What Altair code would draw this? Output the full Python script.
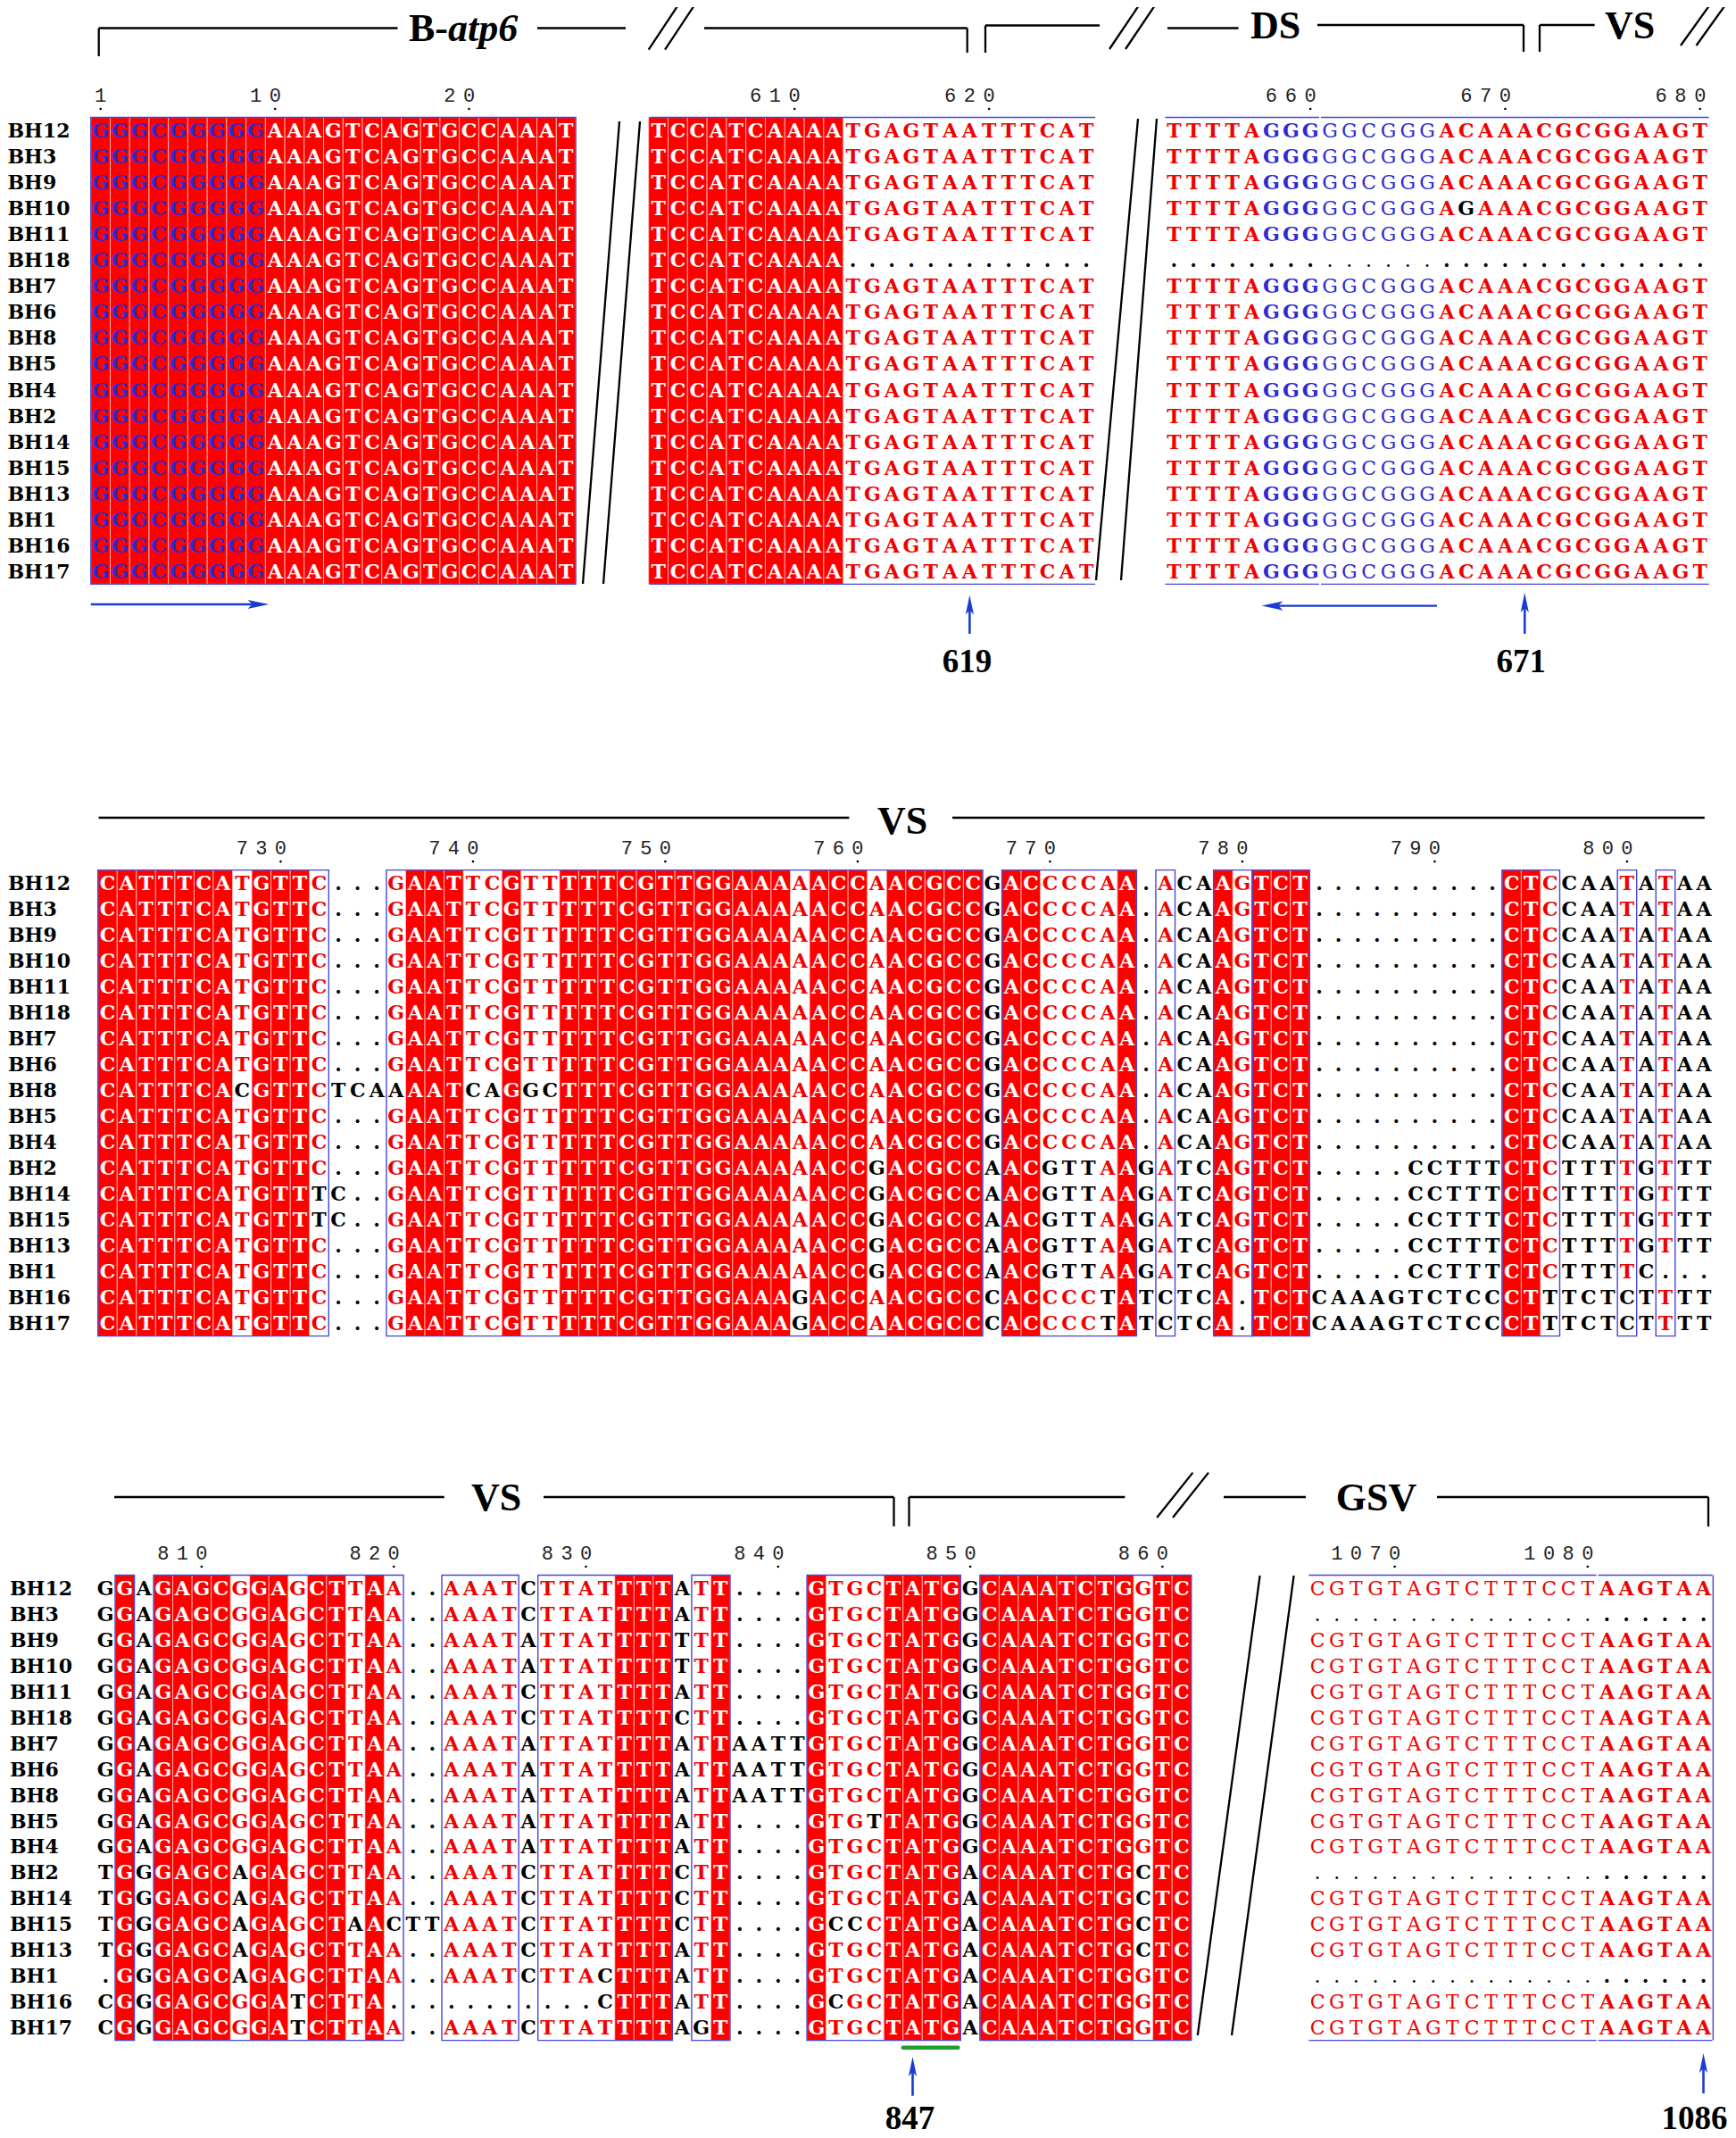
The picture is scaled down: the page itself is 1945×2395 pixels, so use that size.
import altair as alt
import pandas as pd
from collections import Counter

# ============================ DATA ============================
NAMES = ["BH12", "BH3", "BH9", "BH10", "BH11", "BH18", "BH7", "BH6", "BH8",
         "BH5", "BH4", "BH2", "BH14", "BH15", "BH13", "BH1", "BH16", "BH17"]

# B-atp6, positions 1-25
ATP6_A_POS = 1
ATP6_A = ["GGGCGGGGGAAAGTCAGTGCCAAAT"] * 18

# B-atp6 end, positions 603-625
ATP6_B_POS = 603
ATP6_B = (["TCCATCAAAATGAGTAATTTCAT"] * 5
          + ["TCCATCAAAA............."]
          + ["TCCATCAAAATGAGTAATTTCAT"] * 12)

# DS / VS start, positions 653-680
DS_POS = 653
DS = (["TTTTAGGGGGCGGGACAAACGCGGAAGT"] * 3
      + ["TTTTAGGGGGCGGGAGAAACGCGGAAGT"]
      + ["TTTTAGGGGGCGGGACAAACGCGGAAGT"]
      + ["............................"]
      + ["TTTTAGGGGGCGGGACAAACGCGGAAGT"] * 12)

# VS, positions 721-804 (four segments)
VS1_POS = 721
VS1_A = ["CATTTCATGTTC..."] * 8 + ["CATTTCACGTTCTCA"] + ["CATTTCATGTTC..."] * 3 + \
        ["CATTTCATGTTTC..", "CATTTCATGTTTC.."] + ["CATTTCATGTTC..."] * 4
VS1_B = ["GAATTCGTTTTTCGTTGGAAAAACCAACGCC"] * 8 + ["AAATCAGGCTTTCGTTGGAAAAACCAACGCC"] + \
        ["GAATTCGTTTTTCGTTGGAAAAACCAACGCC"] * 2 + ["GAATTCGTTTTTCGTTGGAAAAACCGACGCC"] * 5 + \
        ["GAATTCGTTTTTCGTTGGAAAGACCAACGCC"] * 2
VS1_C = ["GACCCCAA.ACAAGTCT"] * 11 + ["AACGTTAAGATCAGTCT"] * 5 + ["CACCCCTATCTCA.TCT"] * 2
VS1_D = ["..........CTCCAATATAA"] * 11 + [".....CCTTTCTCTTTTGTTT"] * 4 + \
        [".....CCTTTCTCTTTTC..."] + ["CAAAGTCTCCCTTTCTCTTTT"] * 2

# VS, positions 805-861 (five segments)
VS2_POS = 805
VS2_A = ["GGAGAGCGGAGCTTAA"] * 11 + ["TGGGAGCAGAGCTTAA", "TGGGAGCAGAGCTTAA",
         "TGGGAGCAGAGCTAAC", "TGGGAGCAGAGCTTAA", ".GGGAGCAGAGCTTAA",
         "CGGGAGCGGATCTTA.", "CGGGAGCGGATCTTAA"]
VS2_B = [".."] * 13 + ["TT"] + [".."] * 4
VS2_C = ["AAATCTTATTTTATT", "AAATCTTATTTTATT", "AAATATTATTTTTTT", "AAATATTATTTTTTT",
         "AAATCTTATTTTATT", "AAATCTTATTTTCTT", "AAATATTATTTTATT", "AAATATTATTTTATT",
         "AAATATTATTTTATT", "AAATATTATTTTATT", "AAATATTATTTTATT", "AAATCTTATTTTCTT",
         "AAATCTTATTTTCTT", "AAATCTTATTTTCTT", "AAATCTTATTTTATT", "AAATCTTACTTTATT",
         "........CTTTATT", "AAATCTTATTTTAGT"]
VS2_D = ["...."] * 6 + ["AATT"] * 3 + ["...."] * 9
VS2_E = ["GTGCTATGGCAAATCTGGTC"] * 9 + ["GTGTTATGGCAAATCTGGTC", "GTGCTATGGCAAATCTGGTC",
         "GTGCTATGACAAATCTGCTC", "GTGCTATGACAAATCTGCTC", "GCCCTATGACAAATCTGCTC",
         "GTGCTATGACAAATCTGCTC", "GTGCTATGACAAATCTGGTC", "GCGCTATGACAAATCTGGTC",
         "GTGCTATGACAAATCTGGTC"]

# GSV, positions 1066-1086
GSV_POS = 1066
_G = "CGTGTAGTCTTTCCTAAGTAA"
_D = "....................."
GSV = [_G, _D] + [_G] * 9 + [_D] + [_G] * 3 + [_D] + [_G] * 2

VS1 = [a + b + c + d for a, b, c, d in zip(VS1_A, VS1_B, VS1_C, VS1_D)]
VS2 = [a + b + c + d + e for a, b, c, d, e in zip(VS2_A, VS2_B, VS2_C, VS2_D, VS2_E)]

PRIMER_POS = set(range(1, 10)) | set(range(658, 667))
THIN_POS = set(range(661, 667)) | set(range(1066, 1081))
BOX_SPLIT_AFTER = {660, 780, 1080}
MARKED = [619, 671, 847, 1086]

# ============================ LAYOUT (screen px) ============================
M = 8
PW, PH = 1929, 2379
BLOCKS = [
    {"top": 131.5, "rh": 29.05, "label_x": 8.5},
    {"top": 974.6, "rh": 29.0, "label_x": 9},
    {"top": 1764.5, "rh": 28.95, "label_x": 11},
]
PANELS = [
    {"rows": ATP6_A, "start": ATP6_A_POS, "block": 0, "x0": 101.8, "cw": 21.73, "frame": "full", "ticks": [1, 10, 20]},
    {"rows": ATP6_B, "start": ATP6_B_POS, "block": 0, "x0": 726.7, "cw": 21.8, "frame": "h", "ticks": [610, 620]},
    {"rows": DS, "start": DS_POS, "block": 0, "x0": 1304.4, "cw": 21.83, "frame": "h", "ticks": [660, 670, 680]},
    {"rows": VS1, "start": VS1_POS, "block": 1, "x0": 109.7, "cw": 21.55, "frame": "full",
     "ticks": [730, 740, 750, 760, 770, 780, 790, 800]},
    {"rows": VS2, "start": VS2_POS, "block": 2, "x0": 107.5, "cw": 21.53, "frame": "full",
     "ticks": [810, 820, 830, 840, 850, 860]},
    {"rows": GSV, "start": GSV_POS, "block": 2, "x0": 1465.3, "cw": 21.62, "frame": "hr", "ticks": [1070, 1080]},
]

RED = "#ff0000"
RED_TXT = "#f00000"
BLUE_BOX = "#4646d6"
PRIMER = "#2b2bd4"
ARROW = "#1a3dd2"

HEAD_LINES = [
    (110.7, 63, 110.7, 31.5), (110.7, 31.5, 445.5, 31.5), (602, 31.5, 701, 31.5),
    (726.7, 55.7, 760.4, 4.8), (745, 55.7, 778.7, 4.8),
    (789, 31.5, 1083.7, 31.5), (1083.7, 31.5, 1083.7, 59),
    (1104, 59, 1104, 28.5), (1104, 28.5, 1232, 28.5),
    (1243, 55, 1276, 6), (1261, 55, 1294, 6),
    (1308, 31.5, 1387.5, 31.5), (1476, 28, 1707, 28), (1707, 28, 1707, 58),
    (1725, 58, 1725, 28), (1725, 28, 1786.6, 28),
    (1883, 51, 1916, 5), (1900.5, 51, 1933.5, 5),
    (110.6, 916, 951.4, 916), (1067, 916, 1909.8, 916),
    (128, 1677, 497.8, 1677), (609, 1677, 1001.5, 1677), (1001.5, 1677, 1001.5, 1709.8),
    (1018.5, 1709.8, 1018.5, 1677), (1018.5, 1677, 1260.4, 1677),
    (1296.2, 1700, 1336.4, 1649.6), (1314, 1700, 1354, 1649.6),
    (1371, 1677, 1463, 1677), (1610, 1677, 1914, 1677), (1914, 1677, 1914, 1710),
    # breaks between panels
    (694, 136, 653, 654), (717, 136, 676, 654), (1275, 133, 1228, 650), (1296, 133, 1256, 650),
    (1411.6, 1765, 1341.8, 2280), (1449.6, 1765, 1380, 2280),
]
HEAD_TEXT = [("DS", 1429, 29.5), ("VS", 1826, 29.5), ("VS", 1011, 920.5),
             ("VS", 556, 1678.5), ("GSV", 1542, 1678.5)]
ARROW_Y = {619: (666.5, 710), 671: (664, 710), 847: (2304, 2347.7), 1086: (2300, 2345)}
LABEL_Y = {619: 742, 671: 742, 847: 2374, 1086: 2374}
LABEL_DX = {619: -3, 671: -4, 847: -3, 1086: -10}


def panel_of(pos):
    for p in PANELS:
        if p["start"] <= pos < p["start"] + len(p["rows"][0]):
            return p


def colx(pos, frac=0.5):
    p = panel_of(pos)
    return p["x0"] + (pos - p["start"] + frac) * p["cw"]


# ============================ BUILD TABLES ============================
cells, bgs, frames, lines, digits, dots = [], [], [], [], [], []
for p in PANELS:
    b = BLOCKS[p["block"]]
    rows, top, rh, cw, x0 = p["rows"], b["top"], b["rh"], p["cw"], p["x0"]
    bottom = top + len(rows) * rh
    ncol = len(rows[0])
    status = []
    for j in range(ncol):
        pos = p["start"] + j
        col = [r[j] for r in rows]
        letters = [c for c in col if c != "."]
        cons, cnt = Counter(letters).most_common(1)[0] if letters else (".", 0)
        st = "ident" if cnt == len(rows) else ("sim" if cnt >= 13 else "none")
        status.append(st)
        xl = x0 + j * cw
        if st == "ident":
            bgs.append({"x": xl, "x2": xl + cw, "y": top, "y2": bottom})
        for i, ch in enumerate(col):
            if ch == ".":
                c = "#000000"
            elif st == "ident":
                c = PRIMER if pos in PRIMER_POS else "#ffffff"
            elif st == "sim" and ch == cons:
                c = PRIMER if pos in PRIMER_POS else RED_TXT
            else:
                c = "#000000"
            cells.append({"x": xl + cw / 2, "y": top + (i + 0.5) * rh, "t": ch, "c": c,
                          "w": "thin" if pos in THIN_POS else "bold"})
    # boxes around runs of conserved columns
    runs, cur = [], None
    for j, st in enumerate(status):
        pos = p["start"] + j
        if st != "none":
            cur = [j, j] if cur is None else [cur[0], j]
            if pos in BOX_SPLIT_AFTER:
                runs.append(cur)
                cur = None
        elif cur is not None:
            runs.append(cur)
            cur = None
    if cur is not None:
        runs.append(cur)
    for k, (j0, j1) in enumerate(runs):
        xa, xb = x0 + j0 * cw, x0 + (j1 + 1) * cw
        if p["frame"] == "full":
            frames.append({"x": xa, "x2": xb, "y": top, "y2": bottom})
        else:
            lines.append({"x": xa + 1, "y": top, "x2": xb - 1, "y2": top, "c": BLUE_BOX, "w": 1.4})
            lines.append({"x": xa + 1, "y": bottom, "x2": xb - 1, "y2": bottom, "c": BLUE_BOX, "w": 1.4})
            if p["frame"] == "hr" and k == len(runs) - 1:
                lines.append({"x": xb, "y": top, "x2": xb, "y2": bottom, "c": BLUE_BOX, "w": 1.4})
    # tick labels: one digit per column, last digit on the tick column
    for t in p["ticks"]:
        s = str(t)
        for k, d in enumerate(s):
            j = t - p["start"] - (len(s) - 1 - k)
            digits.append({"x": x0 + (j + 0.5) * cw, "y": top - 24.5, "t": d})
        dots.append({"x": x0 + (t - p["start"] + 0.5) * cw, "y": top - 9.5})

labels = []
for b in BLOCKS:
    for i, n in enumerate(NAMES):
        labels.append({"x": b["label_x"], "y": b["top"] + (i + 0.5) * b["rh"], "t": n})

for (x1, y1, x2, y2) in HEAD_LINES:
    lines.append({"x": x1, "y": y1, "x2": x2, "y2": y2, "c": "#000000", "w": 2.3})

# primer arrows
p1_tail, p1_tip = colx(1, 0.0), colx(9, 1.0) + 4
lines.append({"x": p1_tail, "y": 677, "x2": p1_tip - 12, "y2": 677, "c": ARROW, "w": 2.4})
p3_tail, p3_tip = colx(666, 1.0), colx(658, 0.0)
lines.append({"x": p3_tail, "y": 678.6, "x2": p3_tip + 12, "y2": 678.6, "c": ARROW, "w": 2.4})
heads_r = [{"x": p1_tip - 12, "y": 677}]
heads_l = [{"x": p3_tip + 12, "y": 678.6}]

heads_u, numbers = [], []
for pos in MARKED:
    xc = colx(pos)
    tip, tail = ARROW_Y[pos]
    lines.append({"x": xc, "y": tail, "x2": xc, "y2": tip + 10, "c": ARROW, "w": 2.6})
    heads_u.append({"x": xc, "y": tip + 11})
    numbers.append({"x": xc + LABEL_DX[pos], "y": LABEL_Y[pos], "t": str(pos)})

green = [{"x": colx(847, 0.0), "x2": colx(849, 1.0) - 3, "y": 2293.8, "y2": 2293.8}]
heads_text = [{"x": x, "y": y, "t": t} for t, x, y in HEAD_TEXT]

# ============================ CHART ============================
xs = alt.Scale(domain=[M, M + PW], zero=False, nice=False)
ys = alt.Scale(domain=[M, M + PH], zero=False, nice=False, reverse=True)
X = alt.X("x:Q", scale=xs, axis=None)
Y = alt.Y("y:Q", scale=ys, axis=None)


def C(rows):
    return alt.Chart(pd.DataFrame(rows))


bg_layer = C(bgs).mark_rect(fill=RED, stroke="#ffc2c2", strokeWidth=0.8).encode(
    x=X, x2="x2:Q", y=Y, y2="y2:Q")
frame_layer = C(frames).mark_rect(filled=False, color=BLUE_BOX, strokeWidth=1.4).encode(
    x=X, x2="x2:Q", y=Y, y2="y2:Q")
line_layer = C(lines).mark_rule().encode(
    x=X, x2="x2:Q", y=Y, y2="y2:Q",
    color=alt.Color("c:N", scale=None), size=alt.Size("w:Q", scale=None))
green_layer = C(green).mark_rule(color="#1fa02a", strokeWidth=4.5, strokeCap="round").encode(
    x=X, x2="x2:Q", y=Y, y2="y2:Q")

res_bold = C([c for c in cells if c["w"] == "bold"]).mark_text(
    font="DejaVu Serif", fontSize=22, fontWeight="bold", align="center", baseline="middle", dy=1
).encode(x=X, y=Y, text="t:N", color=alt.Color("c:N", scale=None))
res_thin = C([c for c in cells if c["w"] == "thin"]).mark_text(
    font="DejaVu Serif", fontSize=22, fontWeight="normal", align="center", baseline="middle", dy=1
).encode(x=X, y=Y, text="t:N", color=alt.Color("c:N", scale=None))

label_layer = C(labels).mark_text(
    font="DejaVu Serif", fontSize=22, fontWeight="bold", align="left", baseline="middle", color="#000000", dy=1
).encode(x=X, y=Y, text="t:N")
digit_layer = C(digits).mark_text(
    font="Liberation Mono", fontSize=22, align="center", baseline="middle", color="#222222"
).encode(x=X, y=Y, text="t:N")
dot_layer = C(dots).mark_circle(size=7, color="#000000", opacity=1).encode(x=X, y=Y)

up_layer = C(heads_u).mark_point(shape="M0,-1L0.42,1L0,0.55L-0.42,1Z", filled=True, size=484,
                                 color=ARROW, opacity=1).encode(x=X, y=Y)
right_layer = C(heads_r).mark_point(shape="M1,0L-1,-0.42L-0.55,0L-1,0.42Z", filled=True, size=576,
                                    color=ARROW, opacity=1).encode(x=X, y=Y)
left_layer = C(heads_l).mark_point(shape="M-1,0L1,-0.42L0.55,0L1,0.42Z", filled=True, size=576,
                                   color=ARROW, opacity=1).encode(x=X, y=Y)

head_layer = C(heads_text).mark_text(
    font="Liberation Serif", fontSize=44, fontWeight="bold", align="center", baseline="middle", color="#000000"
).encode(x=X, y=Y, text="t:N")
b_layer = C([{"x": 502, "y": 33, "t": "B-"}]).mark_text(
    font="Liberation Serif", fontSize=44, fontWeight="bold", align="right", baseline="middle", color="#000000"
).encode(x=X, y=Y, text="t:N")
atp_layer = C([{"x": 502, "y": 33, "t": "atp6"}]).mark_text(
    font="Liberation Serif", fontSize=44, fontWeight="bold", fontStyle="italic", align="left",
    baseline="middle", color="#000000"
).encode(x=X, y=Y, text="t:N")
num_layer = C(numbers).mark_text(
    font="Liberation Serif", fontSize=37, fontWeight="bold", align="center", baseline="middle", color="#000000"
).encode(x=X, y=Y, text="t:N")

chart = alt.layer(
    bg_layer, frame_layer, line_layer, green_layer, res_bold, res_thin, label_layer,
    digit_layer, dot_layer, up_layer, right_layer, left_layer, head_layer, b_layer,
    atp_layer, num_layer
).properties(
    width=PW, height=PH, autosize=alt.AutoSizeParams(type="none"), padding=0
).configure_view(stroke=None)

chart.save("out.html", embed_options={"renderer": "svg", "actions": False})
